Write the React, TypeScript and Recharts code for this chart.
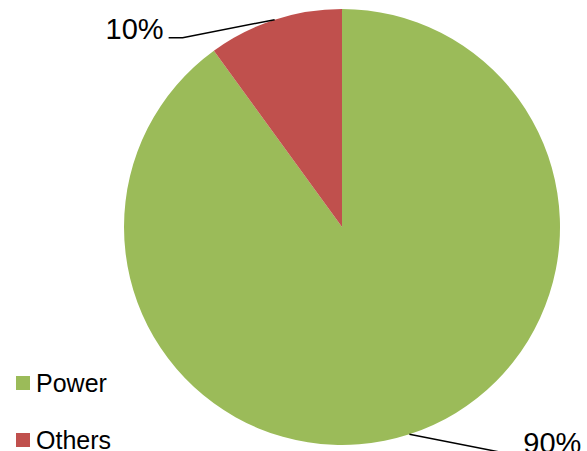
import { PieChart, Pie, Cell, Legend } from 'recharts'

const names = ['Power', 'Others']
const shares = [90, 10]
const colors = ['#9BBB59', '#C0504D']

const data = names.map((name, i) => ({ name, value: shares[i] }))

const RAD = Math.PI / 180

function renderLabel(props: any) {
  const { cx, cy, midAngle, outerRadius, value } = props
  const cos = Math.cos(-midAngle * RAD)
  const sin = Math.sin(-midAngle * RAD)
  const sx = cx + outerRadius * cos
  const sy = cy + outerRadius * sin
  const side = cos >= 0 ? 1 : -1
  const mx = sx + side * 92
  const my = sy + 18
  const ex = mx + side * 14
  return (
    <g>
      <polyline
        points={`${sx},${sy} ${mx},${my} ${ex},${my}`}
        fill="none"
        stroke="#000"
        strokeWidth={1.5}
      />
      <text
        x={ex + side * (side > 0 ? 8 : 5)}
        y={my + 1}
        textAnchor={side > 0 ? 'start' : 'end'}
        fontSize={29}
        fill="#000"
        fontFamily="Liberation Sans, Arial, sans-serif"
      >
        {`${value}%`}
      </text>
    </g>
  )
}

function renderLegend() {
  return (
    <div style={{ fontFamily: 'Liberation Sans, Arial, sans-serif' }}>
      {names.map((name, i) => (
        <div
          key={name}
          style={{ display: 'flex', alignItems: 'center', height: 24, marginBottom: i === 0 ? 33 : 0 }}
        >
          <span style={{ width: 14, height: 14, background: colors[i], marginRight: 6 }} />
          <span style={{ fontSize: 25, color: '#000' }}>{name}</span>
        </div>
      ))}
    </div>
  )
}

export default function App() {
  return (
    <div style={{ position: 'absolute', left: 0, top: 0, background: '#fff' }}>
      <PieChart width={587} height={451} margin={{ top: 0, right: 0, bottom: 0, left: 0 }}>
        <Pie
          data={data}
          dataKey="value"
          nameKey="name"
          cx={342}
          cy={227}
          outerRadius={218}
          startAngle={90}
          endAngle={-270}
          stroke="none"
          label={renderLabel}
          labelLine={false}
          isAnimationActive={false}
        >
          {data.map((d, i) => (
            <Cell key={d.name} fill={colors[i]} />
          ))}
        </Pie>
        <Legend
          content={renderLegend}
          wrapperStyle={{ left: 16, top: 371, width: 140 }}
        />
      </PieChart>
    </div>
  )
}
